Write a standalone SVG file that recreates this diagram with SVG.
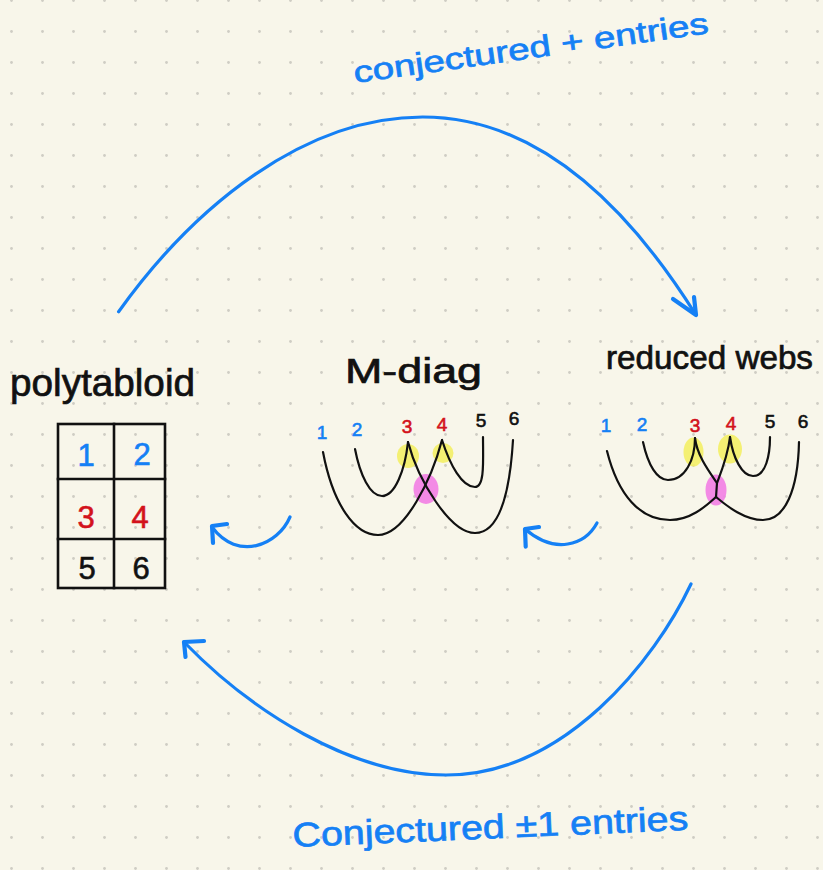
<svg xmlns="http://www.w3.org/2000/svg" width="823" height="870" viewBox="0 0 823 870">
  <defs>
    <pattern id="dots" patternUnits="userSpaceOnUse" x="-4" y="-15" width="31" height="31">
      <circle cx="15.5" cy="15.5" r="1.4" fill="#cfcdc4"/>
    </pattern>
    <style>
      .ink { fill: none; stroke: #111; stroke-width: 2.2; stroke-linecap: round; stroke-linejoin: round; }
      .arrow { fill: none; stroke: #1580f5; stroke-width: 3.2; stroke-linecap: round; stroke-linejoin: round; }
      .head { fill: none; stroke: #1580f5; stroke-width: 4.2; stroke-linecap: round; stroke-linejoin: round; }
      .grid { fill: none; stroke: #111; stroke-width: 2.6; stroke-linecap: square; }
      .title { font-family: "Liberation Sans", Arial, sans-serif; fill: #111; stroke: #111; stroke-width: 0.7; }
      .note { font-family: "Liberation Sans", Arial, sans-serif; fill: #1580f5; stroke: #1580f5; stroke-width: 0.7; }
      .num { font-family: "Liberation Sans", Arial, sans-serif; text-anchor: middle; stroke-width: 0.6; }
      .blue { fill: #1580f5; stroke: #1580f5; }
      .red { fill: #d3121c; stroke: #d3121c; }
      .black { fill: #111; stroke: #111; }
      .hl-y { fill: #f3ef5e; opacity: 0.85; }
      .hl-p { fill: #f27ee4; opacity: 0.9; }
    </style>
  </defs>

  <!-- paper -->
  <rect width="823" height="870" fill="#f8f6ea"/>
  <rect width="823" height="870" fill="url(#dots)"/>

  <!-- polytabloid -->
  <g id="polytabloid">
    <text class="title" font-size="38" x="10" y="396" textLength="185" lengthAdjust="spacingAndGlyphs">polytabloid</text>
    <rect class="grid" x="58" y="424" width="107" height="164"/>
    <line class="grid" x1="114" y1="424" x2="114" y2="588"/>
    <line class="grid" x1="58" y1="479" x2="165" y2="479"/>
    <line class="grid" x1="58" y1="539" x2="165" y2="539"/>
    <g font-size="31">
      <text class="num blue" x="86" y="466">1</text>
      <text class="num blue" x="142" y="465">2</text>
      <text class="num red" x="86" y="528">3</text>
      <text class="num red" x="140" y="528">4</text>
      <text class="num black" x="87" y="579">5</text>
      <text class="num black" x="141" y="579">6</text>
    </g>
  </g>

  <!-- M-diagram -->
  <g id="m-diag">
    <text class="title" font-size="35" x="345" y="383" textLength="137" lengthAdjust="spacingAndGlyphs">M-diag</text>
    <ellipse class="hl-y" cx="408" cy="456" rx="11" ry="12"/>
    <ellipse class="hl-y" cx="443" cy="453" rx="10.5" ry="10"/>
    <ellipse class="hl-p" cx="426" cy="489" rx="12.5" ry="15"/>
    <path class="ink" d="M323 452 C333 505 355 535 378 535 C405 535 432 478 442 440"/>
    <path class="ink" d="M355 449 C360 475 370 496 382 496 C395 496 405 470 408 442"/>
    <path class="ink" d="M408 442 C418 480 450 533 475 533 C500 533 510 490 513 440"/>
    <path class="ink" d="M442 440 C450 465 462 487 475 487 C485 487 483 460 483 437"/>
    <g font-size="19">
      <text class="num blue" x="322" y="439">1</text>
      <text class="num blue" x="357" y="436">2</text>
      <text class="num red" x="407" y="433">3</text>
      <text class="num red" x="442" y="431">4</text>
      <text class="num black" x="481" y="427">5</text>
      <text class="num black" x="514" y="425">6</text>
    </g>
  </g>

  <!-- reduced webs -->
  <g id="reduced-webs">
    <text class="title" font-size="33" x="606" y="369" textLength="207" lengthAdjust="spacingAndGlyphs">reduced webs</text>
    <ellipse class="hl-y" cx="693.5" cy="452" rx="10" ry="14.5"/>
    <ellipse class="hl-y" cx="730" cy="449" rx="12" ry="14.5"/>
    <ellipse class="hl-p" cx="716" cy="490" rx="10.5" ry="15.5"/>
    <path class="ink" d="M607 451 C618 495 640 520 670 520 C690 520 705 507 716 497"/>
    <path class="ink" d="M643 442 C648 465 657 480 668 480 C685 480 695 460 695 438"/>
    <path class="ink" d="M695 438 C697 455 708 470 717 483"/>
    <path class="ink" d="M730 437 C728 455 722 470 717 483 L716 497"/>
    <path class="ink" d="M730 437 C733 458 742 476 753 476 C766 476 770 455 770 437"/>
    <path class="ink" d="M716 497 C728 507 745 520 763 520 C785 520 798 490 799 442"/>
    <g font-size="19">
      <text class="num blue" x="606" y="432">1</text>
      <text class="num blue" x="642" y="431">2</text>
      <text class="num red" x="695" y="432">3</text>
      <text class="num red" x="731" y="430">4</text>
      <text class="num black" x="770" y="428">5</text>
      <text class="num black" x="803" y="428">6</text>
    </g>
  </g>

  <!-- connectors -->
  <g id="connectors">
    <!-- polytabloid to reduced webs, over the top -->
    <path class="arrow" d="M118.6 311.7 C195 205 305 117 422.7 117 C540 117 630 210 696 315"/>
    <path class="head" d="M673 299 L696 315 L694 297"/>
    <!-- reduced webs back to polytabloid, underneath -->
    <path class="arrow" d="M691 584 C655 660 565 775 446 775 C350 775 250 710 184 642"/>
    <path class="head" d="M204 641 L184 642 L185.5 657"/>
    <!-- M-diag to polytabloid -->
    <path class="arrow" d="M290 517 C278 545 238 562 212 527"/>
    <path class="head" d="M227 524 L212 526 L213 543"/>
    <!-- reduced webs to M-diag -->
    <path class="arrow" d="M597 523 C585 545 555 555 525 529"/>
    <path class="head" d="M539 527 L525 529 L525.7 546.7"/>
  </g>

  <!-- connector labels -->
  <g id="labels">
    <text class="note" font-size="30" x="355" y="83" transform="rotate(-8 355 83)" textLength="358" lengthAdjust="spacingAndGlyphs">conjectured + entries</text>
    <text class="note" font-size="34" x="293" y="847" transform="rotate(-2.5 293 847)" textLength="396" lengthAdjust="spacingAndGlyphs">Conjectured ±1 entries</text>
  </g>
</svg>
